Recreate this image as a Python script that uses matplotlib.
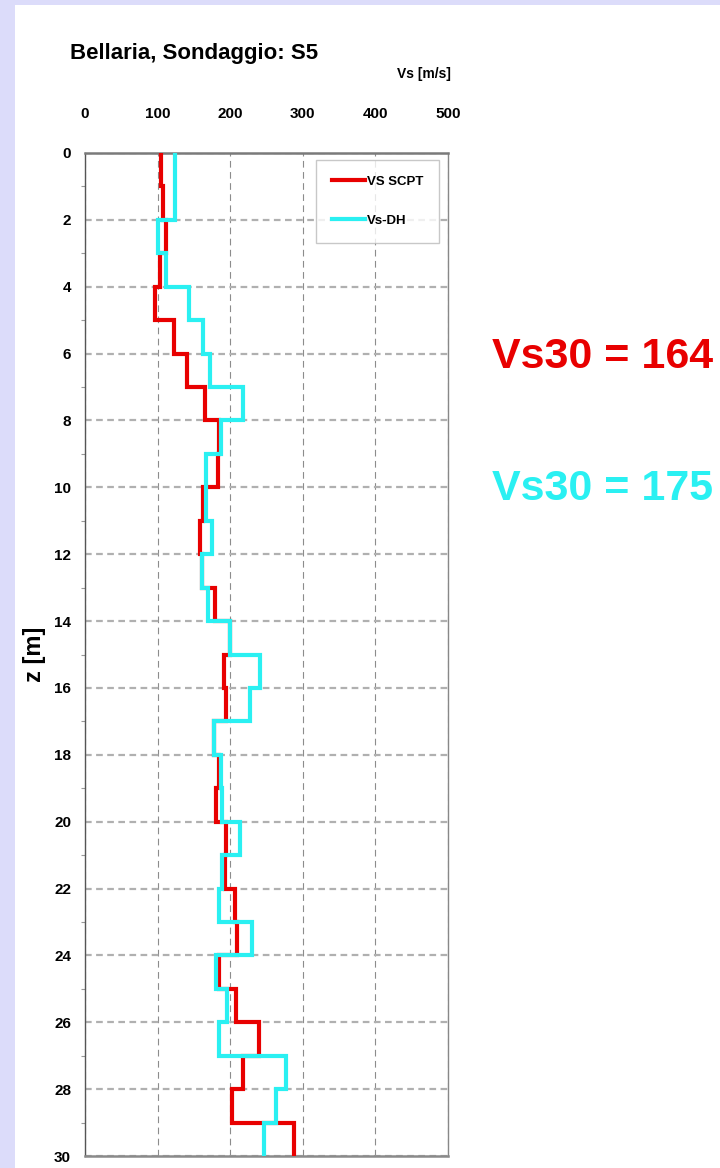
"""
    Vs profile with depth for Bellaria, sondaggio S5:
        SCPT and down-hole shear wave velocities, with Vs30 values.
"""

import numpy as np
import matplotlib
matplotlib.use("Agg")
import matplotlib.pyplot as plt
from matplotlib.patches import Rectangle
from matplotlib.ticker import MultipleLocator

plt.rcParams['font.family'] = ['Liberation Sans', 'DejaVu Sans']
plt.rcParams['font.weight'] = 'bold'

# layer boundaries [m], one layer per metre
depth_edges = list(range(0, 31))

# Vs for each 1 m layer, from top to bottom [m/s]
vs_scpt = [105, 108, 112, 103, 96, 122, 141, 165, 185, 183,
           163, 159, 161, 179, 200, 192, 194, 177, 185, 180,
           194, 193, 207, 210, 185, 208, 239, 217, 203, 288]
vs_dh = [124, 124, 101, 112, 143, 163, 172, 217, 188, 166,
         166, 175, 161, 170, 200, 241, 227, 177, 188, 189,
         214, 189, 185, 230, 181, 196, 185, 277, 263, 246]

series_names = ['VS SCPT', 'Vs-DH']
vs30_values = [164, 175]

x_ticks = [0, 100, 200, 300, 400, 500]
y_ticks = list(range(0, 31, 2))

RED = '#E80000'
CYAN = '#2AF0F2'


def step_profile(edges, values):
    """
    Returns x, y arrays of a vertical step profile (value against depth)
    """
    y = np.repeat(np.asarray(edges, dtype=float), 2)[1:-1]
    x = np.repeat(np.asarray(values, dtype=float), 2)
    return x, y


fig = plt.figure(figsize=(7.2, 11.68), dpi=100, facecolor='#DCDCFA')
fig.add_artist(Rectangle((15 / 720, 0), 1, 1 - 5 / 1168, transform=fig.transFigure,
                         facecolor='white', edgecolor='none', zorder=0))

ax = fig.add_axes([85 / 720, 12 / 1168, 363 / 720, 1003 / 1168])
ax.set_facecolor('white')

for values, name, color in zip([vs_scpt, vs_dh], series_names, [RED, CYAN]):
    x, y = step_profile(depth_edges, values)
    ax.plot(x, y, color=color, lw=3.0, label=name, solid_joinstyle='miter', zorder=3)

ax.set_xlim(0, 500)
ax.set_ylim(30, 0)
ax.set_xticks(x_ticks)
ax.set_yticks(y_ticks)
ax.yaxis.set_minor_locator(MultipleLocator(1))

ax.tick_params(axis='x', top=True, labeltop=True, bottom=False, labelbottom=False,
               length=0, pad=23, labelsize=11)
ax.tick_params(axis='y', which='major', length=0, pad=10, labelsize=11)
ax.tick_params(axis='y', which='minor', length=3, width=0.8, color='#999999')

# grid: dotted-dashed horizontals at even depths, thin dashed verticals
ax.grid(axis='y', color='#B0B0B0', linestyle=(0, (3, 2)), lw=1.6, zorder=1)
ax.grid(axis='x', color='#8C8C8C', linestyle=(0, (6, 4)), lw=0.8, zorder=1)

ax.spines['top'].set_color('#7A7A7A')
ax.spines['top'].set_linewidth(1.8)
ax.spines['bottom'].set_color('#8A8A8A')
ax.spines['bottom'].set_linewidth(1.8)
ax.spines['left'].set_color('#555555')
ax.spines['left'].set_linewidth(1.0)
ax.spines['right'].set_color('#888888')
ax.spines['right'].set_linewidth(1.0)

ax.set_ylabel('z [m]', fontsize=17, fontweight='bold', labelpad=6)

leg = ax.legend(loc='upper right', bbox_to_anchor=(0.976, 0.993), fontsize=9.5,
                frameon=True, fancybox=False, edgecolor='#BBBBBB', handlelength=2.5,
                handletextpad=0.15, labelspacing=2.0, borderpad=1.2, borderaxespad=0)
leg.get_frame().set_linewidth(1.0)

fig.text(70 / 720, 1 - 59 / 1168, 'Bellaria, Sondaggio: S5', fontsize=16,
         fontweight='bold', ha='left', va='baseline')
fig.text(451 / 720, 1 - 74 / 1168, 'Vs [m/s]', fontsize=10, fontweight='bold',
         ha='right', va='center')

for value, color, ypix in zip(vs30_values, [RED, CYAN], [368, 500]):
    fig.text(492 / 720, 1 - ypix / 1168, f'Vs30 = {value}', fontsize=31,
             fontweight='bold', color=color, ha='left', va='baseline')

fig.savefig('out.png', dpi=100, facecolor=fig.get_facecolor())
